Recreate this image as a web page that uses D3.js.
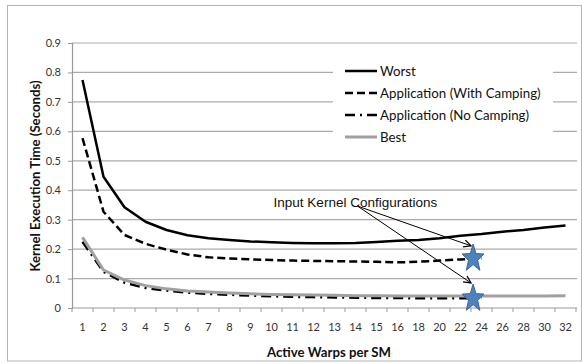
<!DOCTYPE html>
<html><head><meta charset="utf-8">
<script src="https://cdn.jsdelivr.net/npm/d3@7"></script>
<style>body{margin:0;background:#fff}svg{display:block}text{font-family:Lato,"Open Sans",sans-serif}</style>
</head><body><svg id="c" width="582" height="363"></svg>
<script>
const categories = ["1","2","3","4","5","6","7","8","9","10","11","12","13","14","15","16","18","20","22","24","26","28","30","32"];
const worst = [0.774,0.446,0.342,0.293,0.265,0.247,0.237,0.231,0.226,0.223,0.221,0.220,0.220,0.221,0.224,0.228,0.231,0.237,0.245,0.251,0.259,0.265,0.273,0.280];
const withCamping = [0.577,0.327,0.248,0.218,0.198,0.182,0.172,0.168,0.165,0.163,0.161,0.160,0.159,0.158,0.157,0.155,0.157,0.161,0.165,0.168];
const noCamping = [0.225,0.123,0.086,0.068,0.059,0.052,0.048,0.045,0.042,0.040,0.038,0.037,0.036,0.035,0.034,0.034,0.033,0.033,0.033,0.034];
const best = [0.240,0.129,0.095,0.076,0.065,0.058,0.054,0.051,0.048,0.046,0.045,0.044,0.043,0.042,0.042,0.041,0.041,0.041,0.041,0.041,0.041,0.041,0.041,0.042];
const yTicks = [0,0.1,0.2,0.3,0.4,0.5,0.6,0.7,0.8,0.9];
const seriesNames = ["Worst","Application (With Camping)","Application (No Camping)","Best"];
// annotation: stars at configuration boundary (index 19 ~ between 22 and 24)
const starPos = [{i:19.1, v:0.173},{i:19.1, v:0.037}];
const arrowStart = {i:13.6, v:0.346};
const arrowEnds = [{i:19.0, v:0.211},{i:19.0, v:0.085}];
const annotationText = {i:9.6, v:0.36, label:"Input Kernel Configurations"};

const svg = d3.select("#c");
const L=72, R=576, T=43, B=308;
const x = d3.scaleBand().domain(categories).range([L,R]);
const xi = d3.scaleLinear().domain([0,categories.length]).range([L,R]);
const y = d3.scaleLinear().domain([0,0.9]).range([B,T]);

// border
svg.append("rect").attr("x",7.5).attr("y",5.5).attr("width",574).attr("height",355.5)
  .attr("fill","#fff").attr("stroke","#b5b5b5").attr("stroke-width",1);

// gridlines
svg.append("g").selectAll("line").data(yTicks.filter(d=>d>0)).join("line")
  .attr("x1",L).attr("x2",R+1).attr("y1",d=>y(d)).attr("y2",d=>y(d))
  .attr("stroke","#ababab").attr("stroke-width",1.2);

// y axis
const ya = svg.append("g").attr("transform",`translate(${L},0)`)
  .call(d3.axisLeft(y).tickValues(yTicks).tickSize(4).tickPadding(7).tickFormat(d=>d===0?"0":d3.format(".1f")(d)));
ya.select(".domain").attr("stroke","#999").attr("stroke-width",1.2);
ya.selectAll(".tick line").attr("stroke","#999");
ya.selectAll("text").attr("font-size",11).attr("fill","#333").style("font-family","Lato");

// x axis
const xa = svg.append("g").attr("transform",`translate(0,${B})`)
  .call(d3.axisBottom(x).tickSize(0).tickPadding(15));
xa.select(".domain").attr("stroke","#999").attr("stroke-width",1.2).attr("d",`M${L},0H${R+1}`);
xa.selectAll("text").attr("font-size",11).attr("fill","#333").style("font-family","Lato");
svg.append("g").selectAll("line").data(d3.range(categories.length+1)).join("line")
  .attr("x1",d=>xi(d)).attr("x2",d=>xi(d)).attr("y1",B).attr("y2",B+4)
  .attr("stroke","#999").attr("stroke-width",1);

// lines
const line = arr => d3.line().x((d,i)=>x(categories[i])+x.bandwidth()/2).y(d=>y(d))(arr);
const styles = [
  {data:worst, stroke:"#000", w:2.5, dash:null},
  {data:withCamping, stroke:"#000", w:2.5, dash:"8,4"},
  {data:noCamping, stroke:"#000", w:2.5, dash:"10,5,2,5"},
  {data:best, stroke:"#a0a0a0", w:3, dash:null}
];
styles.forEach(s=>{
  svg.append("path").attr("d",line(s.data)).attr("fill","none").attr("stroke",s.stroke)
    .attr("stroke-width",s.w).attr("stroke-dasharray",s.dash).attr("stroke-linejoin","round");
});

// legend
svg.append("rect").attr("x",333).attr("y",55).attr("width",220).attr("height",97).attr("fill","#fff");
const lg = svg.append("g");
const rowY = [71,93,115,137];
styles.forEach((s,k)=>{
  lg.append("line").attr("x1",345).attr("x2",377).attr("y1",rowY[k]).attr("y2",rowY[k])
    .attr("stroke",s.stroke).attr("stroke-width",s.w).attr("stroke-dasharray",s.dash);
  lg.append("text").attr("x",380).attr("y",rowY[k]).attr("dy","0.35em").attr("font-size",13.3)
    .attr("fill","#111").text(seriesNames[k]);
});

// annotation
svg.append("defs").append("marker").attr("id","ah").attr("viewBox","0 0 10 10").attr("refX",9).attr("refY",5)
  .attr("markerWidth",9).attr("markerHeight",9).attr("orient","auto").attr("markerUnits","userSpaceOnUse")
  .append("path").attr("d","M1,1L9,5L1,9").attr("fill","none").attr("stroke","#000").attr("stroke-width",1.4);
arrowEnds.forEach(e=>{
  svg.append("line").attr("x1",xi(arrowStart.i)).attr("y1",y(arrowStart.v))
    .attr("x2",xi(e.i)).attr("y2",y(e.v)).attr("stroke","#000").attr("stroke-width",1)
    .attr("marker-end","url(#ah)");
});
svg.append("text").attr("x",xi(annotationText.i)).attr("y",y(annotationText.v)).attr("dy","0.35em")
  .attr("font-size",13.5).style("font-family","'Liberation Sans',Arial,sans-serif").attr("fill","#111")
  .text(annotationText.label);

// stars
const starPath = (rx,ry)=>{
  const pts=[];
  for(let k=0;k<10;k++){
    const a=-Math.PI/2+k*Math.PI/5, r=k%2?0.42:1;
    pts.push([Math.cos(a)*rx*r, Math.sin(a)*ry*r]);
  }
  return "M"+pts.map(p=>p.join(",")).join("L")+"Z";
};
svg.append("g").selectAll("path").data(starPos).join("path")
  .attr("d",starPath(11.5,14.5))
  .attr("transform",d=>`translate(${xi(d.i)},${y(d.v)+14.5*0.1})`)
  .attr("fill","#4f81bd").attr("stroke","#3a6496").attr("stroke-width",1);

// axis titles
svg.append("text").attr("x",329).attr("y",352).attr("dy","0.35em").attr("text-anchor","middle")
  .attr("font-size",13.2).attr("font-weight","bold").attr("fill","#111").text("Active Warps per SM");
svg.append("text").attr("transform","translate(35,176) rotate(-90)").attr("dy","0.35em").attr("text-anchor","middle")
  .attr("font-size",13.2).attr("font-weight","bold").attr("fill","#111").text("Kernel Execution Time (Seconds)");
</script></body></html>
